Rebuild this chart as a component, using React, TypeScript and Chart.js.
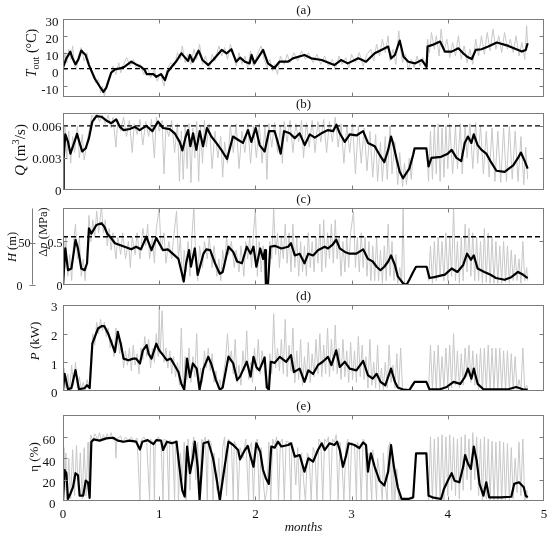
import React, { useEffect, useRef } from "react";
import { Chart, registerables } from "chart.js";
Chart.register(...registerables);

// ---------------- DATA (x = months) ----------------
const monthTicks = [0, 1, 2, 3, 4, 5];
const innerMonthTicks = [1, 2, 3, 4];

// (a) outdoor temperature, °C
const tempTicks = [-10, 0, 10, 20, 30];
const tempRefLevel = 0.5;
const tempBlack = [[0,1],[0.035,6.6],[0.076,10.5],[0.1,6.5],[0.13,3],[0.16,6],[0.19,11.2],[0.235,8.6],[0.27,2.6],[0.33,-5.4],[0.38,-10],[0.42,-13.4],[0.45,-10.8],[0.5,-2],[0.54,0],[0.59,0.6],[0.64,1.6],[0.71,4.6],[0.76,3],[0.81,1.6],[0.85,-0.4],[0.87,-2.8],[0.94,-2.8],[0.97,-4.4],[1.02,-2.8],[1.06,-6.4],[1.09,-1.2],[1.13,1.6],[1.18,5],[1.23,9.6],[1.26,7.6],[1.3,5],[1.32,8.6],[1.35,4.6],[1.41,11.2],[1.45,5.6],[1.51,2.6],[1.56,5.6],[1.65,11.6],[1.7,9.6],[1.75,12],[1.8,4.6],[1.84,7],[1.89,4.6],[1.94,3.6],[1.96,8.6],[1.99,3.6],[2.08,11.6],[2.13,3.6],[2.18,1.6],[2.2,1],[2.25,4.6],[2.34,4.6],[2.39,6.6],[2.51,8.6],[2.58,6.6],[2.69,5.6],[2.82,2.6],[2.89,5.6],[2.96,3.6],[3.07,6.6],[3.15,4.6],[3.24,9.6],[3.31,11.6],[3.38,13.6],[3.41,6.6],[3.45,8.6],[3.5,17.2],[3.54,7.6],[3.59,4.6],[3.66,3.6],[3.73,5.6],[3.78,1.6],[3.79,13.6],[3.84,14.6],[3.92,16.6],[3.97,10.6],[4.04,10.6],[4.11,12.6],[4.16,9.6],[4.2,7.6],[4.25,6.2],[4.29,11.6],[4.35,12],[4.42,13.6],[4.51,16],[4.63,14],[4.77,10.6],[4.81,11.6],[4.83,15.6]];
const tempGrey = [[0,0],[0.02,10],[0.04,4],[0.06,12],[0.08,6],[0.1,14],[0.12,2],[0.14,0],[0.16,8],[0.19,13],[0.22,5],[0.25,10],[0.28,0],[0.31,-3],[0.34,-8],[0.37,-6],[0.39,-14],[0.41,-10],[0.43,-16],[0.46,-8],[0.49,-4],[0.52,2],[0.55,-3],[0.58,4],[0.6,-2],[0.63,3],[0.66,7],[0.7,2],[0.73,6],[0.77,0],[0.8,3],[0.84,-3],[0.88,1],[0.91,-5],[0.95,0],[0.98,-7],[1.01,-2],[1.05,-10],[1.08,0],[1.12,4],[1.16,2],[1.19,10],[1.22,6],[1.24,14],[1.27,4],[1.3,9],[1.33,3],[1.36,12],[1.39,6],[1.42,15],[1.45,3],[1.48,8],[1.52,0],[1.55,9],[1.58,5],[1.62,14],[1.65,8],[1.68,13],[1.71,6],[1.74,15],[1.77,9],[1.8,2],[1.83,10],[1.86,3],[1.89,8],[1.92,1],[1.95,11],[1.98,2],[2.02,9],[2.06,14],[2.09,6],[2.12,1],[2.15,6],[2.18,-1],[2.2,3],[2.23,-3],[2.26,8],[2.3,3],[2.33,9],[2.36,4],[2.4,10],[2.44,5],[2.48,11],[2.52,6],[2.55,10],[2.6,4],[2.64,9],[2.68,3],[2.72,8],[2.76,2],[2.8,6],[2.83,0],[2.87,8],[2.9,3],[2.94,7],[2.97,1],[3.0,9],[3.04,4],[3.08,10],[3.12,2],[3.16,9],[3.2,12],[3.23,5],[3.26,15],[3.29,8],[3.32,18],[3.35,10],[3.38,20],[3.4,5],[3.43,12],[3.46,3],[3.49,23],[3.51,12],[3.53,4],[3.56,9],[3.59,0],[3.62,6],[3.65,1],[3.68,8],[3.71,2],[3.74,7],[3.77,0],[3.79,18],[3.81,10],[3.83,22],[3.86,12],[3.88,20],[3.91,8],[3.93,24],[3.96,10],[3.99,18],[4.02,7],[4.05,16],[4.08,8],[4.11,20],[4.14,6],[4.17,14],[4.2,4],[4.23,12],[4.26,3],[4.29,18],[4.32,8],[4.35,20],[4.38,9],[4.41,22],[4.44,11],[4.47,24],[4.5,12],[4.53,20],[4.56,10],[4.59,22],[4.62,12],[4.65,18],[4.68,10],[4.71,20],[4.74,8],[4.77,16],[4.8,6],[4.82,26],[4.83,14]];

// (b) flow, values in L/s (= 0.001 m3/s)
const flowTicks = [0, 3, 6];
const flowTickLabels = ["0", "0.003", "0.006"];
const flowRefLevel = 6;
const flowBlack = [[0,0],[0.007,3.0],[0.024,5.2],[0.052,4.5],[0.077,3.4],[0.104,4.1],[0.146,5.25],[0.173,4.4],[0.2,3.6],[0.236,3.9],[0.27,4.85],[0.305,6.4],[0.347,6.9],[0.398,6.85],[0.45,6.5],[0.502,6.25],[0.554,6.6],[0.589,5.93],[0.63,5.6],[0.693,5.7],[0.745,5.9],[0.797,5.6],[0.866,6.0],[0.929,5.5],[0.988,6.4],[1.04,5.8],[1.109,5.7],[1.161,5.3],[1.213,4.5],[1.241,3.7],[1.276,5.0],[1.3,5.6],[1.324,4.1],[1.352,5.3],[1.386,3.75],[1.421,5.5],[1.456,4.1],[1.497,5.8],[1.542,5.0],[1.594,4.4],[1.646,3.75],[1.705,2.9],[1.767,5.0],[1.819,4.7],[1.871,4.4],[1.923,5.6],[1.958,4.5],[2.003,5.8],[2.044,4.2],[2.096,3.6],[2.141,5.5],[2.2,5.5],[2.235,4.4],[2.263,3.4],[2.298,5.5],[2.357,5.3],[2.409,4.85],[2.46,5.3],[2.513,4.2],[2.565,5.2],[2.617,4.9],[2.686,5.3],[2.755,5.6],[2.807,5.5],[2.842,6.1],[2.877,5.3],[2.929,4.5],[2.981,5.2],[3.05,5.1],[3.12,5.5],[3.17,4.4],[3.24,4.1],[3.29,3.3],[3.34,2.6],[3.38,3.75],[3.41,5.0],[3.43,4.4],[3.47,2.8],[3.5,1.7],[3.535,1.1],[3.57,1.6],[3.6,2.0],[3.64,3.3],[3.655,3.9],[3.777,3.9],[3.8,2.2],[3.83,3.0],[3.93,3.1],[4.0,3.4],[4.04,3.75],[4.09,3.0],[4.14,2.7],[4.176,4.4],[4.21,5.0],[4.245,4.4],[4.27,5.2],[4.31,4.2],[4.35,3.75],[4.4,3.4],[4.45,2.6],[4.505,1.8],[4.59,1.7],[4.68,2.3],[4.73,3.0],[4.76,3.5],[4.8,2.7],[4.83,2.0]];
const flowGrey = [[0,0.5],[0.01,4],[0.02,6],[0.04,3],[0.06,5.5],[0.08,2.5],[0.1,5],[0.12,3.5],[0.15,6],[0.17,3],[0.2,5.2],[0.22,2.8],[0.25,4.5],[0.28,6],[0.3,7],[0.33,6.5],[0.35,7.2],[0.38,6.4],[0.41,7],[0.44,6.2],[0.47,7],[0.5,5.8],[0.52,6.8],[0.55,4],[0.57,6.5],[0.6,5.5],[0.63,6.8],[0.66,5],[0.69,6.5],[0.72,3.5],[0.74,6.2],[0.77,5.2],[0.8,6.6],[0.83,4.2],[0.86,6.4],[0.89,5],[0.92,6.6],[0.95,3],[0.97,6.8],[1.0,5.5],[1.03,6.5],[1.05,1.5],[1.07,6],[1.1,5],[1.13,6.5],[1.16,3.5],[1.19,6.2],[1.21,0.8],[1.23,5.5],[1.25,1.0],[1.27,6],[1.29,2],[1.31,6.2],[1.33,0.7],[1.35,5.8],[1.37,3],[1.39,6.4],[1.41,0.8],[1.43,6],[1.45,2.5],[1.47,6.5],[1.49,4],[1.52,6.2],[1.55,2],[1.58,5.5],[1.61,3],[1.64,5],[1.66,1.2],[1.68,4.5],[1.71,2.5],[1.74,6],[1.77,3.5],[1.8,6.2],[1.83,2],[1.86,5.5],[1.89,3.5],[1.92,6.2],[1.95,2.5],[1.98,6],[2.01,3],[2.04,6.2],[2.07,2.5],[2.1,6],[2.12,1],[2.14,6.2],[2.17,4],[2.2,6.3],[2.23,3.5],[2.26,6],[2.28,2.5],[2.3,6.4],[2.33,4.5],[2.36,6.5],[2.39,3.5],[2.42,6.2],[2.45,4.5],[2.48,6.5],[2.5,3],[2.53,6.3],[2.56,4],[2.59,6.5],[2.62,3.5],[2.65,6.4],[2.68,4.5],[2.71,6.6],[2.74,3.5],[2.77,6.4],[2.8,4.5],[2.83,6.8],[2.86,4],[2.89,6.2],[2.92,2.5],[2.95,6],[2.98,3.5],[3.01,6.2],[3.04,1.5],[3.07,6],[3.1,2.5],[3.13,5.8],[3.16,1.8],[3.19,5.5],[3.22,1.2],[3.25,5.2],[3.27,0.8],[3.3,4.5],[3.32,0.8],[3.35,5],[3.37,1],[3.4,6],[3.42,1.5],[3.45,4.5],[3.48,0.5],[3.5,3.5],[3.53,0.3],[3.55,2.5],[3.57,0.5],[3.6,3],[3.62,1],[3.64,3.5],[3.7,null],[3.78,3.9],[3.8,0.8],[3.82,5.5],[3.84,1],[3.86,6],[3.88,1.5],[3.9,6.2],[3.92,0.8],[3.94,5.8],[3.96,1.2],[3.98,6],[4.0,2],[4.02,6.2],[4.05,1.5],[4.08,6],[4.1,2],[4.13,6.2],[4.15,1.5],[4.18,6],[4.2,3],[4.23,6.2],[4.26,2],[4.29,6.3],[4.31,2.5],[4.34,6],[4.37,1.5],[4.4,5.5],[4.43,1.2],[4.46,5.8],[4.49,0.8],[4.52,5.5],[4.55,0.7],[4.58,5.8],[4.61,0.8],[4.64,6],[4.67,1],[4.7,5.5],[4.73,0.8],[4.76,5],[4.79,0.5],[4.81,4],[4.83,1]];

// (c) pressure difference, MPa (head axis H in m)
const dpTicks = [0, 0.5];
const dpTickLabels = ["0", "0.5"];
const headTicks = [0, 50];
const headMax = 91;
const dpRefLevel = 0.555;
const dpBlack = [[0,0],[0.024,0.42],[0.052,0.17],[0.087,0.19],[0.11,0.36],[0.13,0.52],[0.156,0.42],[0.19,0.19],[0.225,0.17],[0.25,0.25],[0.27,0.65],[0.295,0.59],[0.347,0.69],[0.4,0.71],[0.43,0.67],[0.46,0.59],[0.5,0.54],[0.54,0.48],[0.59,0.46],[0.64,0.44],[0.71,0.41],[0.76,0.44],[0.81,0.41],[0.866,0.555],[0.92,0.4],[0.97,0.54],[1.0,0.48],[1.04,0.4],[1.09,0.41],[1.14,0.36],[1.2,0.3],[1.24,0.115],[1.255,0.04],[1.28,0.25],[1.31,0.4],[1.33,0.21],[1.37,0.42],[1.4,0.115],[1.46,0.36],[1.49,0.41],[1.53,0.4],[1.58,0.25],[1.63,0.13],[1.66,0.15],[1.72,0.44],[1.77,0.38],[1.81,0.27],[1.86,0.25],[1.91,0.44],[1.95,0.36],[1.98,0.44],[2.01,0.21],[2.05,0.42],[2.08,0.3],[2.1,0.4],[2.11,0],[2.13,0],[2.155,0.44],[2.2,0.45],[2.27,0.42],[2.34,0.44],[2.37,0.48],[2.41,0.34],[2.46,0.36],[2.51,0.25],[2.55,0.36],[2.6,0.34],[2.65,0.4],[2.72,0.44],[2.755,0.42],[2.8,0.46],[2.84,0.52],[2.877,0.42],[2.93,0.38],[2.98,0.36],[3.05,0.36],[3.12,0.41],[3.17,0.3],[3.22,0.27],[3.26,0.21],[3.3,0.17],[3.34,0.21],[3.38,0.27],[3.41,0.34],[3.45,0.23],[3.48,0.1],[3.535,0.02],[3.57,0],[3.6,0.06],[3.64,0.15],[3.67,0.21],[3.78,0.21],[3.81,0.08],[3.86,0.09],[3.97,0.12],[4.04,0.19],[4.1,0.15],[4.16,0.23],[4.2,0.36],[4.24,0.29],[4.27,0.34],[4.31,0.19],[4.38,0.15],[4.44,0.12],[4.5,0.08],[4.59,0.06],[4.66,0.09],[4.73,0.15],[4.78,0.12],[4.83,0.08]];
const dpGrey = [[0,0],[0.01,0.5],[0.02,0.2],[0.03,0.55],[0.05,0.1],[0.07,0.35],[0.09,0.05],[0.11,0.5],[0.13,0.7],[0.15,0.3],[0.17,0.55],[0.19,0.1],[0.21,0.3],[0.23,0.05],[0.25,0.35],[0.27,0.8],[0.29,0.5],[0.31,0.75],[0.33,0.55],[0.35,0.85],[0.37,0.6],[0.4,0.9],[0.42,0.6],[0.44,0.75],[0.46,0.45],[0.48,0.65],[0.5,0.4],[0.52,0.6],[0.55,0.3],[0.57,0.55],[0.6,0.35],[0.62,0.6],[0.65,0.3],[0.68,0.5],[0.7,0.2],[0.72,0.55],[0.75,0.35],[0.77,0.6],[0.8,0.3],[0.83,0.65],[0.86,0.45],[0.88,0.7],[0.9,0.3],[0.93,0.55],[0.95,0.25],[0.97,0.65],[1.0,0.88],[1.02,0.4],[1.05,0.6],[1.07,0.25],[1.1,0.5],[1.13,0.3],[1.15,0.55],[1.18,0.85],[1.2,0.3],[1.22,0.55],[1.24,0.05],[1.26,0.4],[1.28,0.15],[1.3,0.5],[1.32,0.1],[1.34,0.55],[1.36,0.9],[1.38,0.3],[1.4,0.05],[1.42,0.45],[1.45,0.2],[1.47,0.5],[1.5,0.3],[1.52,0.55],[1.55,0.2],[1.57,0.45],[1.6,0.1],[1.62,0.3],[1.64,0.05],[1.66,0.4],[1.68,0.2],[1.7,0.55],[1.72,0.35],[1.75,0.5],[1.78,0.2],[1.8,0.4],[1.83,0.15],[1.85,0.45],[1.88,0.1],[1.9,0.5],[1.92,0.3],[1.94,0.55],[1.96,0.2],[1.98,0.6],[2.0,0.88],[2.02,0.1],[2.04,0.5],[2.06,0.15],[2.08,0.45],[2.1,0],[2.13,0],[2.15,0.5],[2.17,0.3],[2.19,0.88],[2.21,0.35],[2.23,0.6],[2.25,0.2],[2.27,0.55],[2.29,0.3],[2.31,0.7],[2.33,0.25],[2.35,0.6],[2.37,0.15],[2.39,0.7],[2.41,0.2],[2.43,0.55],[2.45,0.1],[2.47,0.5],[2.49,0.15],[2.51,0.45],[2.53,0.1],[2.55,0.6],[2.57,0.2],[2.59,0.5],[2.61,0.15],[2.63,0.55],[2.65,0.25],[2.67,0.7],[2.69,0.15],[2.71,0.75],[2.73,0.2],[2.75,0.6],[2.77,0.3],[2.79,0.7],[2.81,0.25],[2.83,0.75],[2.85,0.3],[2.87,0.55],[2.89,0.1],[2.91,0.5],[2.93,0.15],[2.95,0.55],[2.97,0.2],[2.99,0.6],[3.02,0.85],[3.04,0.2],[3.06,0.55],[3.08,0.15],[3.1,0.6],[3.12,0.2],[3.14,0.55],[3.16,0.1],[3.18,0.5],[3.2,0.05],[3.22,0.45],[3.24,0.05],[3.26,0.55],[3.28,0.05],[3.3,0.4],[3.32,0.02],[3.34,0.45],[3.36,0.05],[3.38,0.7],[3.4,0.1],[3.42,0.5],[3.44,0.05],[3.46,0.35],[3.48,0.02],[3.5,0.2],[3.52,0.02],[3.535,0.88],[3.55,0.0],[3.58,0.02],[3.6,0.06],[3.62,0.1],[3.64,0.15],[3.7,null],[3.78,0.2],[3.8,0.05],[3.82,0.45],[3.84,0.02],[3.86,0.5],[3.88,0.05],[3.9,0.55],[3.92,0.1],[3.94,0.5],[3.96,0.05],[3.98,0.6],[4.0,0.05],[4.02,0.55],[4.04,0.1],[4.06,0.9],[4.08,0.05],[4.1,0.5],[4.12,0.02],[4.14,0.55],[4.16,0.05],[4.18,0.7],[4.2,0.15],[4.22,0.65],[4.24,0.1],[4.26,0.6],[4.28,0.05],[4.3,0.55],[4.32,0.05],[4.34,0.5],[4.36,0.02],[4.38,0.65],[4.4,0.03],[4.42,0.6],[4.44,0.02],[4.46,0.55],[4.48,0.02],[4.5,0.5],[4.52,0.02],[4.54,0.45],[4.56,0.02],[4.58,0.5],[4.6,0.03],[4.62,0.45],[4.64,0.02],[4.66,0.4],[4.68,0.05],[4.7,0.35],[4.72,0.05],[4.74,0.3],[4.76,0.02],[4.78,0.5],[4.8,0.05],[4.82,0.2],[4.83,0.05]];

// (d) pump power, kW
const powerTicks = [0, 1, 2, 3];
const powerBlack = [[0,0.03],[0.017,0.6],[0.052,0.06],[0.087,0.1],[0.13,0.73],[0.166,0.06],[0.225,0.1],[0.25,0.2],[0.277,0.1],[0.305,1.65],[0.33,1.88],[0.364,2.18],[0.4,2.26],[0.43,2.26],[0.47,2.0],[0.52,1.54],[0.54,1.36],[0.57,2.06],[0.6,1.65],[0.63,1.13],[0.68,1.07],[0.73,1.13],[0.76,1.13],[0.8,0.96],[0.83,1.42],[0.87,1.6],[0.89,1.3],[0.92,1.13],[0.97,1.65],[1.0,1.42],[1.04,1.25],[1.08,1.07],[1.12,1.13],[1.16,0.9],[1.2,0.66],[1.23,0.25],[1.26,0.05],[1.29,1.13],[1.32,0.48],[1.35,0.96],[1.39,0.78],[1.42,0.05],[1.46,0.78],[1.51,1.19],[1.54,0.96],[1.59,0.38],[1.63,0.05],[1.66,0.12],[1.72,1.2],[1.77,0.96],[1.81,0.38],[1.84,0.5],[1.91,1.02],[1.95,0.5],[1.98,1.19],[2.01,0.84],[2.04,0.72],[2.096,1.17],[2.12,0.12],[2.14,0.05],[2.16,1.02],[2.2,0.98],[2.253,1.19],[2.32,1.02],[2.37,1.25],[2.4,0.66],[2.46,0.78],[2.51,0.32],[2.55,0.72],[2.6,0.6],[2.65,0.9],[2.7,1.02],[2.755,1.19],[2.79,0.9],[2.84,1.42],[2.877,0.84],[2.93,1.02],[2.98,0.78],[3.05,0.72],[3.12,1.05],[3.17,0.55],[3.22,0.43],[3.26,0.6],[3.3,0.32],[3.35,0.2],[3.41,0.78],[3.45,0.32],[3.48,0.12],[3.535,0.05],[3.6,0.03],[3.655,0.32],[3.777,0.32],[3.81,0.06],[3.92,0.06],[3.99,0.14],[4.06,0.32],[4.13,0.25],[4.176,0.48],[4.21,0.78],[4.245,0.43],[4.27,0.78],[4.31,0.25],[4.37,0.06],[4.49,0.06],[4.63,0.06],[4.71,0.14],[4.78,0.06],[4.83,0.05]];
const powerGrey = [[0,0],[0.01,0.8],[0.03,0.1],[0.05,0.6],[0.07,0.05],[0.09,0.9],[0.11,0.2],[0.13,1.0],[0.15,0.1],[0.17,0.5],[0.19,0.05],[0.21,0.3],[0.23,0.05],[0.25,0.4],[0.27,0.1],[0.29,1.2],[0.31,2.0],[0.33,1.6],[0.35,2.4],[0.37,2.0],[0.39,2.5],[0.41,2.1],[0.43,2.4],[0.45,1.9],[0.47,2.2],[0.49,1.5],[0.51,1.8],[0.53,1.2],[0.55,2.2],[0.57,1.8],[0.59,1.3],[0.61,1.7],[0.63,0.8],[0.65,1.4],[0.67,0.9],[0.69,1.5],[0.71,0.7],[0.73,1.6],[0.75,0.9],[0.77,1.3],[0.79,0.6],[0.81,1.5],[0.83,1.1],[0.85,1.9],[0.87,1.2],[0.89,1.8],[0.91,0.8],[0.93,1.5],[0.95,1.0],[0.97,2.0],[0.99,1.2],[1.0,2.9],[1.01,1.3],[1.03,2.8],[1.05,1.0],[1.07,1.5],[1.09,0.8],[1.11,1.4],[1.13,0.6],[1.15,1.2],[1.17,0.5],[1.19,1.0],[1.21,0.2],[1.23,2.2],[1.25,0.1],[1.27,1.2],[1.29,0.4],[1.31,1.5],[1.33,0.3],[1.35,1.2],[1.37,0.5],[1.39,2.0],[1.41,0.1],[1.43,0.8],[1.45,0.3],[1.47,1.4],[1.49,0.8],[1.51,1.5],[1.53,0.7],[1.55,1.3],[1.57,0.3],[1.59,0.7],[1.61,0.1],[1.63,0.4],[1.65,0.05],[1.67,0.6],[1.69,1.1],[1.71,2.0],[1.73,1.0],[1.75,1.4],[1.77,0.6],[1.79,1.8],[1.81,0.3],[1.83,0.9],[1.85,0.2],[1.87,1.4],[1.89,0.7],[1.91,2.1],[1.93,0.4],[1.95,1.0],[1.97,0.3],[1.99,1.5],[2.01,0.7],[2.03,1.8],[2.05,0.6],[2.07,1.4],[2.09,0.9],[2.11,0.1],[2.13,0.05],[2.15,1.3],[2.17,0.6],[2.19,2.7],[2.21,0.8],[2.23,1.5],[2.25,0.7],[2.27,1.8],[2.29,0.6],[2.31,2.5],[2.33,0.5],[2.35,1.6],[2.37,0.7],[2.39,2.2],[2.41,0.3],[2.43,1.4],[2.45,0.4],[2.47,1.8],[2.49,0.2],[2.51,1.2],[2.53,0.4],[2.55,1.7],[2.57,0.3],[2.59,1.3],[2.61,0.5],[2.63,1.8],[2.65,0.6],[2.67,2.0],[2.69,0.5],[2.71,1.6],[2.73,0.6],[2.75,2.2],[2.77,0.5],[2.79,1.8],[2.81,0.7],[2.83,2.3],[2.85,0.6],[2.87,1.5],[2.89,0.4],[2.91,1.8],[2.93,0.5],[2.95,1.4],[2.97,0.3],[2.99,1.7],[3.01,0.4],[3.03,1.4],[3.05,0.3],[3.07,1.9],[3.09,0.5],[3.11,1.6],[3.13,0.4],[3.15,1.2],[3.17,0.1],[3.19,1.8],[3.21,0.2],[3.23,1.0],[3.25,0.1],[3.27,1.6],[3.29,0.05],[3.31,0.8],[3.33,0.05],[3.35,1.0],[3.37,0.1],[3.39,1.6],[3.41,0.3],[3.43,0.9],[3.45,0.1],[3.47,1.3],[3.49,0.05],[3.51,1.5],[3.53,0.02],[3.55,0.1],[3.58,0.02],[3.6,0.05],[3.62,0.2],[3.64,0.3],[3.7,null],[3.78,0.3],[3.8,0.05],[3.82,1.6],[3.84,0.05],[3.86,1.4],[3.88,0.05],[3.9,1.6],[3.92,0.1],[3.94,1.2],[3.96,0.1],[3.98,1.5],[4.0,0.2],[4.02,1.6],[4.04,0.1],[4.06,2.0],[4.08,0.2],[4.1,1.4],[4.12,0.1],[4.14,1.3],[4.16,0.2],[4.18,1.5],[4.2,0.5],[4.22,1.6],[4.24,0.3],[4.26,1.4],[4.28,0.2],[4.3,1.3],[4.32,0.05],[4.34,1.5],[4.36,0.02],[4.38,1.5],[4.4,0.02],[4.42,1.6],[4.44,0.03],[4.46,1.5],[4.48,0.02],[4.5,1.5],[4.52,0.03],[4.54,1.5],[4.56,0.02],[4.58,1.4],[4.6,0.03],[4.62,1.4],[4.64,0.02],[4.66,1.3],[4.68,0.05],[4.7,1.2],[4.72,0.05],[4.74,0.4],[4.76,0.02],[4.78,1.5],[4.8,0.05],[4.82,0.2],[4.83,0.05]];

// (e) efficiency, %
const effTicks = [0, 20, 40, 60];
const effBlack = [[0,0.8],[0.017,29],[0.035,26],[0.052,2],[0.077,6.8],[0.104,13],[0.13,26],[0.156,24],[0.173,5],[0.21,5],[0.236,19],[0.26,17.5],[0.277,3],[0.295,55.5],[0.32,57.7],[0.38,56.5],[0.45,58.6],[0.52,59.2],[0.57,56.5],[0.63,55.5],[0.69,56.5],[0.76,55.5],[0.8,48.3],[0.825,55.5],[0.88,57],[0.94,53.3],[0.97,57],[1.02,56.5],[1.04,47.7],[1.08,55.5],[1.13,54],[1.18,55.5],[1.21,32],[1.24,10],[1.265,4],[1.29,51],[1.32,26],[1.35,40],[1.37,55.5],[1.4,32],[1.42,0.8],[1.46,54],[1.51,55.5],[1.56,40],[1.6,19],[1.63,0.8],[1.67,26],[1.72,55.5],[1.77,52.4],[1.82,47.7],[1.84,39],[1.89,47.7],[1.92,51.6],[1.95,41.5],[1.98,32],[2.01,54],[2.05,46],[2.08,29],[2.11,21],[2.14,16],[2.165,51],[2.2,50],[2.235,55.5],[2.27,51],[2.34,52.4],[2.37,54],[2.41,41.5],[2.46,43],[2.51,27.5],[2.55,40],[2.6,36.8],[2.65,47.7],[2.69,54],[2.72,47.7],[2.77,54],[2.82,52.4],[2.85,55.5],[2.877,47.7],[2.91,32],[2.94,41.5],[2.97,54],[3.03,52.4],[3.08,49.5],[3.12,54.8],[3.15,52.4],[3.17,27.5],[3.2,44.6],[3.24,32],[3.29,19],[3.34,14.5],[3.38,27.5],[3.41,52.4],[3.44,32],[3.48,12.8],[3.52,1.9],[3.59,1.9],[3.64,3.4],[3.67,44.6],[3.777,44.6],[3.8,5],[3.84,3.4],[3.93,1.9],[3.96,11.3],[4.0,19],[4.04,26],[4.07,19],[4.12,17.5],[4.16,32],[4.18,43],[4.21,35],[4.24,30],[4.27,51],[4.3,38],[4.33,16],[4.37,5],[4.4,17.5],[4.43,3.4],[4.55,3.4],[4.66,4],[4.69,16],[4.74,17.5],[4.79,12.8],[4.81,5],[4.83,3.4]];
const effGrey = [[0,0],[0.01,50],[0.02,10],[0.03,45],[0.04,0],[0.06,40],[0.08,2],[0.1,48],[0.12,5],[0.14,52],[0.16,10],[0.18,45],[0.2,2],[0.22,50],[0.24,5],[0.26,55],[0.27,8],[0.29,62],[0.31,55],[0.33,63],[0.36,58],[0.38,64],[0.4,56],[0.42,62],[0.44,57],[0.46,63],[0.48,58],[0.5,64],[0.52,57],[0.54,60],[0.55,40],[0.56,58],[0.6,61],[0.62,54],[0.65,60],[0.68,56],[0.71,60],[0.74,55],[0.77,59],[0.8,0],[0.81,56],[0.84,60],[0.87,55],[0.9,0],[0.91,58],[0.94,55],[0.95,0],[0.96,56],[0.99,60],[1.02,54],[1.04,0],[1.05,58],[1.08,56],[1.1,0],[1.11,57],[1.14,55],[1.16,0],[1.17,57],[1.19,55],[1.2,0],[1.22,45],[1.24,20],[1.26,55],[1.28,0],[1.3,58],[1.32,10],[1.34,50],[1.36,60],[1.38,20],[1.4,55],[1.42,0],[1.44,58],[1.46,55],[1.48,60],[1.5,0],[1.51,58],[1.54,55],[1.56,0],[1.57,45],[1.6,10],[1.62,40],[1.64,0],[1.66,50],[1.68,60],[1.7,5],[1.72,58],[1.75,55],[1.77,0],[1.78,56],[1.8,52],[1.82,0],[1.84,50],[1.87,40],[1.9,58],[1.93,0],[1.94,50],[1.96,55],[1.98,0],[2.0,55],[2.02,58],[2.04,0],[2.06,50],[2.08,20],[2.1,0],[2.12,10],[2.14,55],[2.16,0],[2.18,58],[2.2,52],[2.22,60],[2.24,0],[2.26,55],[2.28,58],[2.3,0],[2.32,56],[2.35,55],[2.37,0],[2.38,55],[2.4,45],[2.42,15],[2.44,50],[2.46,0],[2.48,45],[2.5,20],[2.52,0],[2.54,45],[2.56,40],[2.58,0],[2.6,50],[2.62,45],[2.64,0],[2.66,58],[2.68,55],[2.7,0],[2.72,58],[2.74,55],[2.76,60],[2.78,0],[2.8,58],[2.82,55],[2.84,62],[2.86,0],[2.88,55],[2.9,35],[2.92,0],[2.94,50],[2.96,58],[2.98,0],[3.0,55],[3.03,52],[3.05,0],[3.06,55],[3.08,50],[3.1,0],[3.12,58],[3.14,55],[3.16,0],[3.17,45],[3.19,30],[3.21,0],[3.22,48],[3.24,30],[3.26,0],[3.27,40],[3.3,20],[3.32,0],[3.33,45],[3.35,15],[3.37,0],[3.38,50],[3.4,55],[3.42,0],[3.43,40],[3.45,0],[3.47,30],[3.49,0],[3.51,5],[3.53,0],[3.55,3],[3.58,0],[3.6,2],[3.62,0],[3.64,5],[3.7,null],[3.78,45],[3.8,0],[3.82,60],[3.84,0],[3.86,58],[3.88,0],[3.9,60],[3.92,0],[3.94,62],[3.96,0],[3.98,60],[4.0,5],[4.02,62],[4.04,10],[4.06,60],[4.08,5],[4.1,58],[4.12,2],[4.14,60],[4.16,10],[4.18,62],[4.2,20],[4.22,58],[4.24,10],[4.26,64],[4.28,20],[4.3,60],[4.32,5],[4.34,58],[4.36,0],[4.38,60],[4.4,2],[4.42,58],[4.44,0],[4.46,56],[4.48,0],[4.5,55],[4.52,0],[4.54,56],[4.56,0],[4.58,55],[4.6,0],[4.62,54],[4.64,0],[4.66,50],[4.68,2],[4.7,40],[4.72,8],[4.74,55],[4.76,5],[4.78,58],[4.8,0],[4.82,10],[4.83,2]];

// ---------------- STYLE / LAYOUT ----------------
const W = 550;
const H = 536;
const AXIS = "#7c7c7c";
const GREY = "#c8c8c8";
const TXT = "#111";
const FONT = '"Liberation Serif", "Times New Roman", serif';
const PLOT_LEFT = 63;
const PLOT_RIGHT_PAD = 6;

type Part = { t: string; it?: boolean; sub?: boolean; sup?: boolean };

type Panel = {
  key: string;
  title: string;
  top: number;
  bottom: number;
  yMin: number;
  yMax: number;
  ticks: number[];
  labels: string[];
  labelGap: number;
  labelDy: number;
  tickFont: number;
  grey: any[];
  black: any[];
  ref?: number;
  yTitle: Part[];
  yTitleX: number;
  yTitleY: number;
  yTitleSize: number;
  bottomAxis?: boolean;
  head?: boolean;
};

const panels: Panel[] = [
  {
    key: "a", title: "(a)", top: 19, bottom: 97, yMin: -16.4, yMax: 30,
    ticks: tempTicks, labels: tempTicks.map(String), labelGap: 5, labelDy: 4, tickFont: 13,
    grey: tempGrey, black: tempBlack, ref: tempRefLevel,
    yTitle: [{ t: "T", it: true }, { t: "out", sub: true }, { t: " (°C)" }], yTitleX: 32, yTitleY: 53, yTitleSize: 14,
  },
  {
    key: "b", title: "(b)", top: 113, bottom: 190, yMin: 0, yMax: 7.2,
    ticks: flowTicks, labels: flowTickLabels, labelGap: 2, labelDy: 2, tickFont: 13,
    grey: flowGrey, black: flowBlack, ref: flowRefLevel,
    yTitle: [{ t: "Q", it: true }, { t: " (m" }, { t: "3", sup: true }, { t: "/s)" }], yTitleX: 21, yTitleY: 150, yTitleSize: 15,
  },
  {
    key: "c", title: "(c)", top: 208, bottom: 285, yMin: 0, yMax: 0.885,
    ticks: dpTicks, labels: dpTickLabels, labelGap: 1, labelDy: 2, tickFont: 12,
    grey: dpGrey, black: dpBlack, ref: dpRefLevel,
    yTitle: [{ t: "Δ" }, { t: "p", it: true }, { t: " (MPa)" }], yTitleX: 44, yTitleY: 232, yTitleSize: 12.5, head: true,
  },
  {
    key: "d", title: "(d)", top: 305, bottom: 391, yMin: 0, yMax: 3,
    ticks: powerTicks, labels: powerTicks.map(String), labelGap: 6, labelDy: 3, tickFont: 13,
    grey: powerGrey, black: powerBlack,
    yTitle: [{ t: "P", it: true }, { t: " (kW)" }], yTitleX: 36, yTitleY: 341, yTitleSize: 13,
  },
  {
    key: "e", title: "(e)", top: 415, bottom: 501, yMin: 0, yMax: 80.5,
    ticks: effTicks, labels: effTicks.map(String), labelGap: 8, labelDy: 4, tickFont: 13,
    grey: effGrey, black: effBlack,
    yTitle: [{ t: "η (%)" }], yTitleX: 35, yTitleY: 457, yTitleSize: 13, bottomAxis: true,
  },
];

function drawRich(ctx: CanvasRenderingContext2D, parts: Part[], cx: number, cy: number, size: number) {
  ctx.save();
  ctx.translate(cx, cy);
  ctx.rotate(-Math.PI / 2);
  const fontFor = (p: Part) =>
    `${p.it ? "italic " : ""}${p.sub || p.sup ? Math.round(size * 0.7) : size}px ${FONT}`;
  let total = 0;
  for (const p of parts) {
    ctx.font = fontFor(p);
    total += ctx.measureText(p.t).width;
  }
  let x = -total / 2;
  ctx.textAlign = "left";
  ctx.textBaseline = "middle";
  ctx.fillStyle = TXT;
  for (const p of parts) {
    ctx.font = fontFor(p);
    const dy = p.sub ? size * 0.3 : p.sup ? -size * 0.35 : 0;
    ctx.fillText(p.t, x, dy);
    x += ctx.measureText(p.t).width;
  }
  ctx.restore();
}

function framePlugin(p: Panel) {
  return {
    id: "frame_" + p.key,
    afterDatasetsDraw(chart: any) {
      const { ctx, chartArea: a, scales } = chart;
      const xs = scales.x;
      const ys = scales.y;
      const L = Math.round(a.left) + 0.5;
      const R = Math.round(a.right) - 0.5;
      const T = Math.round(a.top) + 0.5;
      const B = Math.round(a.bottom) - 0.5;
      ctx.save();
      ctx.strokeStyle = AXIS;
      ctx.lineWidth = 1;
      ctx.strokeRect(L, T, R - L, B - T);
      ctx.beginPath();
      for (const m of innerMonthTicks) {
        const px = Math.round(xs.getPixelForValue(m)) + 0.5;
        ctx.moveTo(px, T); ctx.lineTo(px, T + 4);
        ctx.moveTo(px, B); ctx.lineTo(px, B - 4);
      }
      for (const v of p.ticks) {
        const py = Math.round(ys.getPixelForValue(v)) + 0.5;
        if (py < T + 1 || py > B - 1) continue;
        ctx.moveTo(L, py); ctx.lineTo(L + 4, py);
        ctx.moveTo(R, py); ctx.lineTo(R - 4, py);
      }
      ctx.stroke();

      ctx.fillStyle = TXT;
      ctx.font = `${p.tickFont}px ${FONT}`;
      ctx.textAlign = "right";
      ctx.textBaseline = "middle";
      p.ticks.forEach((v, i) => {
        ctx.fillText(p.labels[i], L - p.labelGap, ys.getPixelForValue(v) + p.labelDy);
      });

      ctx.textAlign = "center";
      ctx.font = `13px ${FONT}`;
      ctx.fillText(p.title, (L + R) / 2, T - 9);

      drawRich(ctx, p.yTitle, p.yTitleX, p.yTitleY, p.yTitleSize);

      if (p.head) {
        const hs = scales.yH;
        const ax = 32.5;
        ctx.strokeStyle = AXIS;
        ctx.beginPath();
        ctx.moveTo(ax, T); ctx.lineTo(ax, B);
        for (const v of headTicks) {
          const py = Math.round(hs.getPixelForValue(v)) + 0.5;
          ctx.moveTo(ax - 3, py); ctx.lineTo(ax + 3, py);
        }
        ctx.stroke();
        ctx.textAlign = "right";
        ctx.font = `12px ${FONT}`;
        ctx.fillText("50", ax - 2, hs.getPixelForValue(50) + 1);
        ctx.fillText("0", ax - 10, hs.getPixelForValue(0) + 2);
        drawRich(ctx, [{ t: "H", it: true }, { t: " (m)" }], 13, 247, 12.5);
      }

      if (p.bottomAxis) {
        ctx.textAlign = "center";
        ctx.font = `13px ${FONT}`;
        for (const m of monthTicks) {
          ctx.fillText(String(m), xs.getPixelForValue(m), 515);
        }
        ctx.font = `italic 13px ${FONT}`;
        ctx.fillText("months", (L + R) / 2, 528);
      }
      ctx.restore();
    },
  };
}

function PanelChart({ p }: { p: Panel }) {
  const ref = useRef<HTMLCanvasElement | null>(null);
  useEffect(() => {
    if (!ref.current) return;
    const datasets: any[] = [
      {
        data: p.grey, borderColor: GREY, borderWidth: 1, pointRadius: 0,
        spanGaps: false, tension: 0, order: 3,
      },
      {
        data: p.black, borderColor: "#000", borderWidth: 2.2, pointRadius: 0,
        borderJoinStyle: "round", tension: 0, order: 2,
      },
    ];
    if (p.ref !== undefined) {
      datasets.push({
        data: [[0, p.ref], [5, p.ref]], borderColor: "#000", borderWidth: 1.4,
        borderDash: [5, 3], pointRadius: 0, order: 1,
      });
    }
    const scales: any = {
      x: { type: "linear", min: 0, max: 5, display: false },
      y: { type: "linear", min: p.yMin, max: p.yMax, display: false },
    };
    if (p.head) scales.yH = { type: "linear", min: 0, max: headMax, display: false, position: "left" };
    const chart = new Chart(ref.current, {
      type: "line",
      data: { datasets },
      options: {
        animation: false,
        responsive: false,
        devicePixelRatio: 1,
        parsing: true,
        layout: { padding: { left: PLOT_LEFT, right: PLOT_RIGHT_PAD, top: p.top, bottom: H - p.bottom } },
        scales,
        plugins: { legend: { display: false }, tooltip: { enabled: false } },
        events: [],
      } as any,
      plugins: [framePlugin(p)],
    });
    return () => chart.destroy();
  }, [p]);
  return (
    <canvas
      ref={ref}
      width={W}
      height={H}
      style={{ position: "absolute", left: 0, top: 0, width: W, height: H }}
    />
  );
}

export default function App() {
  return (
    <div style={{ position: "absolute", left: 0, top: 0, width: W, height: H, background: "#fff", overflow: "hidden" }}>
      {panels.map((p) => (
        <PanelChart key={p.key} p={p} />
      ))}
    </div>
  );
}
